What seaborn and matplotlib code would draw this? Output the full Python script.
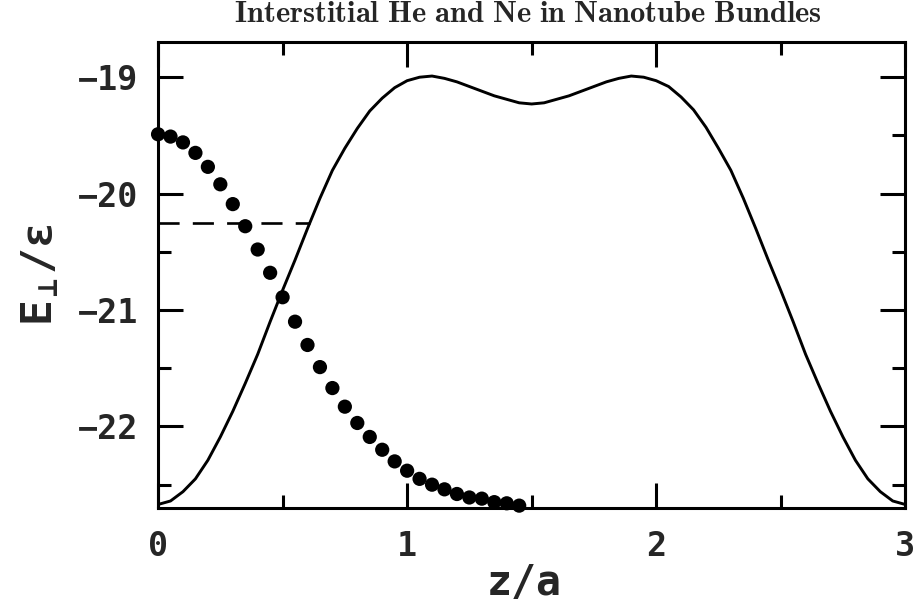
import numpy as np
import pandas as pd
import seaborn as sns
import matplotlib.pyplot as plt
from matplotlib.ticker import MultipleLocator

# Potential curve E_perp/eps along the interstitial channel
curve_z = np.linspace(0.0, 3.0, 61)
curve_e = [-22.67, -22.64, -22.56, -22.45, -22.29, -22.09, -21.87, -21.63, -21.38, -21.10,
           -20.83, -20.57, -20.30, -20.04, -19.80, -19.61, -19.44, -19.29, -19.18, -19.09,
           -19.03, -19.00, -18.99, -19.01, -19.04, -19.08, -19.12, -19.16, -19.19, -19.22,
           -19.23,
           -19.22, -19.19, -19.16, -19.12, -19.08, -19.04, -19.01, -18.99, -19.00, -19.03,
           -19.08, -19.17, -19.28, -19.43, -19.61, -19.80, -20.04, -20.30, -20.57, -20.83,
           -21.10, -21.38, -21.63, -21.87, -22.09, -22.29, -22.45, -22.56, -22.64, -22.67]

# Filled circles
dot_z = np.linspace(0.0, 1.45, 30)
dot_e = [-19.49, -19.51, -19.56, -19.65, -19.77, -19.92, -20.09, -20.28, -20.48, -20.68,
         -20.89, -21.10, -21.30, -21.49, -21.67, -21.83, -21.97, -22.09, -22.20, -22.30,
         -22.38, -22.45, -22.50, -22.54, -22.58, -22.61, -22.62, -22.65, -22.66, -22.68]

# Ground state energy level (dashed)
level_z = [0.0, 0.61]
level_e = [-20.25, -20.25]

df_curve = pd.DataFrame({"z": curve_z, "E": curve_e})
df_dots = pd.DataFrame({"z": dot_z, "E": dot_e})
df_level = pd.DataFrame({"z": level_z, "E": level_e})

sns.set_style("ticks")
plt.rcParams["font.family"] = ["DejaVu Sans Mono", "DejaVu Sans"]
plt.rcParams["font.weight"] = "bold"
plt.rcParams["mathtext.fontset"] = "custom"
plt.rcParams["mathtext.rm"] = "DejaVu Sans Mono:bold"
plt.rcParams["mathtext.it"] = "DejaVu Sans Mono:bold"
plt.rcParams["mathtext.bf"] = "DejaVu Sans Mono:bold"

fig = plt.figure(figsize=(9.19, 6.04), dpi=100)
ax = fig.add_axes([0.172, 0.159, 0.813, 0.771])

sns.lineplot(data=df_curve, x="z", y="E", color="black", linewidth=2.1, ax=ax, sort=False)
sns.lineplot(data=df_level, x="z", y="E", color="black", linewidth=1.9, ax=ax)
ax.lines[-1].set_dashes((8, 5))
sns.scatterplot(data=df_dots, x="z", y="E", color="black", s=105, edgecolor="none",
                ax=ax, zorder=5, clip_on=False)

ax.set_xlim(0, 3)
ax.set_ylim(-22.7, -18.7)
ax.xaxis.set_major_locator(MultipleLocator(1))
ax.xaxis.set_minor_locator(MultipleLocator(0.5))
ax.yaxis.set_major_locator(MultipleLocator(1))
ax.yaxis.set_minor_locator(MultipleLocator(0.5))

ax.tick_params(which="both", direction="in", top=True, right=True, width=2.2,
               labelsize=24, color="black")
ax.tick_params(which="major", length=18)
ax.tick_params(which="minor", length=9.5)
ax.tick_params(axis="x", which="major", pad=16)
ax.tick_params(axis="y", which="major", pad=14)
for s in ax.spines.values():
    s.set_linewidth(2.2)
    s.set_color("black")

ax.set_xlabel("z/a", fontsize=30, fontweight="bold", labelpad=0)
ax.xaxis.set_label_coords(0.49, -0.115)
ax.set_ylabel(r"$\mathrm{E_{\perp}/\varepsilon}$", fontsize=31, labelpad=12)

fig.text(0.574, 0.977, r"$\mathbf{Interstitial\ He\ and\ Ne\ in\ Nanotube\ Bundles}$",
         ha="center", va="center", fontsize=22, math_fontfamily="cm")

fig.savefig("out.png", dpi=100)
